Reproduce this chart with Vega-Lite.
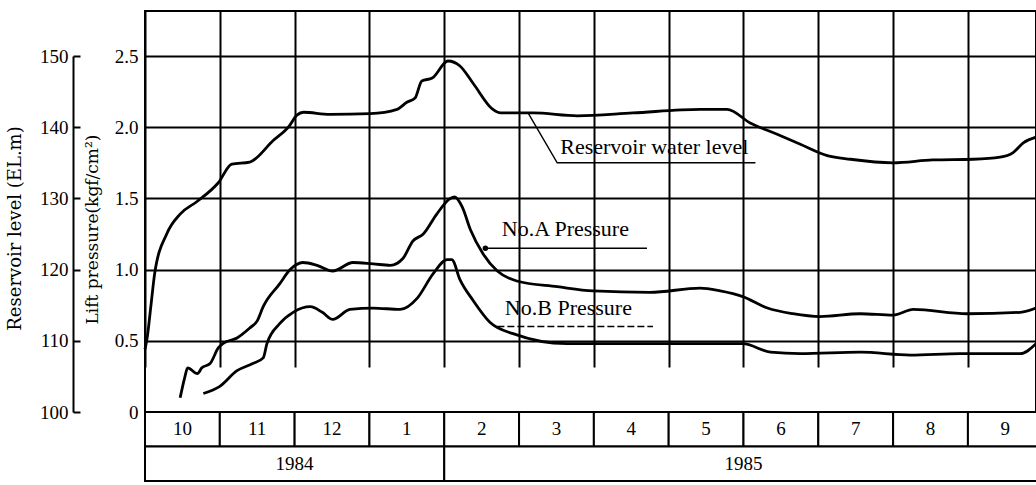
{
  "$schema": "https://vega.github.io/schema/vega-lite/v6.json",
  "autosize": {"type": "pad"},
  "padding": {"left": 5, "top": 10, "right": 0, "bottom": 0},
  "background": "white",
  "spacing": 0,
  "bounds": "flush",
  "config": {
    "font": "Liberation Serif",
    "view": {"stroke": "black", "strokeWidth": 2},
    "axis": {"labelFont": "Liberation Serif", "titleFont": "DejaVu Serif", "labelColor": "black", "titleColor": "black", "titleFontWeight": "normal"}
  },
  "datasets": {
    "water": [
      {"m": 0.00, "level": 108.8}, {"m": 0.03, "level": 110.5}, {"m": 0.08, "level": 115.0}, {"m": 0.13, "level": 119.5},
      {"m": 0.29, "level": 125.0}, {"m": 0.47, "level": 127.8}, {"m": 0.70, "level": 129.6}, {"m": 0.98, "level": 132.2},
      {"m": 1.16, "level": 134.8}, {"m": 1.40, "level": 135.1}, {"m": 1.71, "level": 138.1}, {"m": 1.93, "level": 140.2},
      {"m": 2.03, "level": 141.7}, {"m": 2.12, "level": 142.1}, {"m": 2.47, "level": 141.8}, {"m": 3.01, "level": 141.9}, {"m": 3.37, "level": 142.5},
      {"m": 3.50, "level": 143.5}, {"m": 3.61, "level": 144.1}, {"m": 3.70, "level": 146.5}, {"m": 3.84, "level": 146.9},
      {"m": 4.05, "level": 149.3}, {"m": 4.21, "level": 148.6}, {"m": 4.39, "level": 146.1}, {"m": 4.65, "level": 142.5},
      {"m": 4.75, "level": 142.0}, {"m": 5.19, "level": 142.0}, {"m": 5.78, "level": 141.6}, {"m": 6.52, "level": 142.0},
      {"m": 7.42, "level": 142.5}, {"m": 7.78, "level": 142.5}, {"m": 8.09, "level": 140.6}, {"m": 8.45, "level": 139.0},
      {"m": 8.76, "level": 137.6}, {"m": 9.12, "level": 136.0}, {"m": 9.43, "level": 135.5}, {"m": 10.00, "level": 135.0},
      {"m": 10.53, "level": 135.4}, {"m": 11.07, "level": 135.5}, {"m": 11.43, "level": 135.8}, {"m": 11.60, "level": 136.4},
      {"m": 11.74, "level": 137.8}, {"m": 11.91, "level": 138.6}
    ],
    "pressure": [
      {"s": "A", "m": 0.47, "v": 0.10}, {"s": "A", "m": 0.53, "v": 0.24}, {"s": "A", "m": 0.57, "v": 0.31}, {"s": "A", "m": 0.70, "v": 0.27},
      {"s": "A", "m": 0.76, "v": 0.31}, {"s": "A", "m": 0.87, "v": 0.34}, {"s": "A", "m": 0.98, "v": 0.45}, {"s": "A", "m": 1.04, "v": 0.48},
      {"s": "A", "m": 1.23, "v": 0.52}, {"s": "A", "m": 1.40, "v": 0.59}, {"s": "A", "m": 1.50, "v": 0.64}, {"s": "A", "m": 1.58, "v": 0.74},
      {"s": "A", "m": 1.80, "v": 0.90}, {"s": "A", "m": 1.94, "v": 1.00}, {"s": "A", "m": 2.11, "v": 1.05}, {"s": "A", "m": 2.30, "v": 1.03},
      {"s": "A", "m": 2.51, "v": 0.99}, {"s": "A", "m": 2.78, "v": 1.05}, {"s": "A", "m": 3.05, "v": 1.04}, {"s": "A", "m": 3.28, "v": 1.03},
      {"s": "A", "m": 3.45, "v": 1.08}, {"s": "A", "m": 3.58, "v": 1.20}, {"s": "A", "m": 3.72, "v": 1.25}, {"s": "A", "m": 3.90, "v": 1.39},
      {"s": "A", "m": 4.08, "v": 1.50}, {"s": "A", "m": 4.14, "v": 1.51}, {"s": "A", "m": 4.24, "v": 1.44}, {"s": "A", "m": 4.35, "v": 1.28},
      {"s": "A", "m": 4.52, "v": 1.11}, {"s": "A", "m": 4.71, "v": 0.99}, {"s": "A", "m": 4.97, "v": 0.92}, {"s": "A", "m": 5.51, "v": 0.88},
      {"s": "A", "m": 5.99, "v": 0.85}, {"s": "A", "m": 6.75, "v": 0.84}, {"s": "A", "m": 7.42, "v": 0.87}, {"s": "A", "m": 7.69, "v": 0.85},
      {"s": "A", "m": 7.99, "v": 0.81}, {"s": "A", "m": 8.32, "v": 0.73}, {"s": "A", "m": 8.66, "v": 0.69}, {"s": "A", "m": 9.02, "v": 0.67},
      {"s": "A", "m": 9.56, "v": 0.69}, {"s": "A", "m": 10.00, "v": 0.68}, {"s": "A", "m": 10.27, "v": 0.72}, {"s": "A", "m": 10.99, "v": 0.69},
      {"s": "A", "m": 11.70, "v": 0.70}, {"s": "A", "m": 11.91, "v": 0.73},
      {"s": "B", "m": 0.78, "v": 0.13}, {"s": "B", "m": 1.00, "v": 0.18}, {"s": "B", "m": 1.23, "v": 0.29}, {"s": "B", "m": 1.44, "v": 0.34},
      {"s": "B", "m": 1.58, "v": 0.38}, {"s": "B", "m": 1.63, "v": 0.48}, {"s": "B", "m": 1.80, "v": 0.62}, {"s": "B", "m": 1.98, "v": 0.70},
      {"s": "B", "m": 2.21, "v": 0.74}, {"s": "B", "m": 2.37, "v": 0.70}, {"s": "B", "m": 2.51, "v": 0.65}, {"s": "B", "m": 2.74, "v": 0.72},
      {"s": "B", "m": 3.05, "v": 0.73}, {"s": "B", "m": 3.41, "v": 0.72}, {"s": "B", "m": 3.64, "v": 0.80}, {"s": "B", "m": 3.85, "v": 0.97},
      {"s": "B", "m": 4.04, "v": 1.07}, {"s": "B", "m": 4.10, "v": 1.07}, {"s": "B", "m": 4.21, "v": 0.93}, {"s": "B", "m": 4.39, "v": 0.78},
      {"s": "B", "m": 4.61, "v": 0.63}, {"s": "B", "m": 4.92, "v": 0.55}, {"s": "B", "m": 5.64, "v": 0.48}, {"s": "B", "m": 5.99, "v": 0.48},
      {"s": "B", "m": 6.89, "v": 0.48}, {"s": "B", "m": 7.99, "v": 0.48}, {"s": "B", "m": 8.36, "v": 0.42}, {"s": "B", "m": 8.76, "v": 0.41},
      {"s": "B", "m": 9.56, "v": 0.42}, {"s": "B", "m": 10.23, "v": 0.40}, {"s": "B", "m": 10.90, "v": 0.41}, {"s": "B", "m": 11.70, "v": 0.41},
      {"s": "B", "m": 11.91, "v": 0.48}
    ],
    "labels": [
      {"label": "Reservoir water level", "m": 5.55, "v": 1.86},
      {"label": "No.A Pressure", "m": 4.77, "v": 1.285},
      {"label": "No.B Pressure", "m": 4.81, "v": 0.73}
    ],
    "leaders": [
      {"g": "water", "o": 1, "m": 5.12, "v": 2.10, "dash": "solid"},
      {"g": "water", "o": 2, "m": 5.51, "v": 1.75, "dash": "solid"},
      {"g": "water", "o": 3, "m": 8.16, "v": 1.75, "dash": "solid"},
      {"g": "A", "o": 1, "m": 4.55, "v": 1.15, "dash": "solid"},
      {"g": "A", "o": 2, "m": 6.71, "v": 1.15, "dash": "solid"},
      {"g": "B", "o": 1, "m": 4.71, "v": 0.60, "dash": "dashed"},
      {"g": "B", "o": 2, "m": 6.79, "v": 0.60, "dash": "dashed"}
    ],
    "table": [
      {"row": "month", "s": 0, "e": 1, "label": "10"},
      {"row": "month", "s": 1, "e": 2, "label": "11"},
      {"row": "month", "s": 2, "e": 3, "label": "12"},
      {"row": "month", "s": 3, "e": 4, "label": "1"},
      {"row": "month", "s": 4, "e": 5, "label": "2"},
      {"row": "month", "s": 5, "e": 6, "label": "3"},
      {"row": "month", "s": 6, "e": 7, "label": "4"},
      {"row": "month", "s": 7, "e": 8, "label": "5"},
      {"row": "month", "s": 8, "e": 9, "label": "6"},
      {"row": "month", "s": 9, "e": 10, "label": "7"},
      {"row": "month", "s": 10, "e": 11, "label": "8"},
      {"row": "month", "s": 11, "e": 12, "label": "9"},
      {"row": "year", "s": 0, "e": 4, "label": "1984"},
      {"row": "year", "s": 4, "e": 12, "label": "1985"}
    ]
  },
  "vconcat": [
    {
      "width": 891,
      "height": 401,
      "resolve": {"scale": {"y": "independent"}, "axis": {"y": "independent"}},
      "layer": [
        {
          "layer": [
            {
              "data": {"name": "pressure"},
              "mark": {"type": "line", "color": "black", "strokeWidth": 2.8, "interpolate": "monotone"},
              "encoding": {
                "x": {"field": "m", "type": "quantitative", "title": null,
                      "scale": {"domain": [0, 11.91], "nice": false, "zero": false},
                      "axis": {"values": [0,1,2,3,4,5,6,7,8,9,10,11], "grid": true, "gridColor": "black", "gridWidth": 2, "gridOpacity": 1, "labels": false, "ticks": false, "domain": false, "title": null}},
                "y": {"field": "v", "type": "quantitative",
                      "scale": {"domain": [0, 2.5], "range": [401, 45], "nice": false, "zero": false},
                      "axis": {"orient": "left", "values": [0, 0.5, 1, 1.5, 2, 2.5],
                               "labelExpr": "datum.value == 0 ? '0' : format(datum.value, '.1f')",
                               "grid": true, "gridColor": "black", "gridWidth": 2, "gridOpacity": 1,
                               "ticks": false, "domain": false, "labelPadding": 7, "labelFontSize": 19,
                               "title": "Lift pressure(kgf/cm²)", "titleFontSize": 17,
                               "titleX": -53, "titleY": 218, "titleAngle": -90, "titleAlign": "center", "titleBaseline": "middle"}},
                "detail": {"field": "s", "type": "nominal"}
              }
            },
            {
              "data": {"name": "leaders"},
              "transform": [{"filter": "datum.dash == 'solid'"}],
              "mark": {"type": "line", "color": "black", "strokeWidth": 1.4},
              "encoding": {
                "x": {"field": "m", "type": "quantitative", "title": null},
                "y": {"field": "v", "type": "quantitative"},
                "detail": {"field": "g", "type": "nominal"},
                "order": {"field": "o", "type": "quantitative"}
              }
            },
            {
              "data": {"name": "leaders"},
              "transform": [{"filter": "datum.g == 'A' && datum.o == 1"}],
              "mark": {"type": "point", "filled": true, "color": "black", "size": 30, "opacity": 1},
              "encoding": {
                "x": {"field": "m", "type": "quantitative", "title": null},
                "y": {"field": "v", "type": "quantitative"}
              }
            },
            {
              "data": {"name": "leaders"},
              "transform": [{"filter": "datum.dash == 'dashed'"}],
              "mark": {"type": "line", "color": "black", "strokeWidth": 1.4, "strokeDash": [7, 3]},
              "encoding": {
                "x": {"field": "m", "type": "quantitative", "title": null},
                "y": {"field": "v", "type": "quantitative"},
                "detail": {"field": "g", "type": "nominal"},
                "order": {"field": "o", "type": "quantitative"}
              }
            },
            {
              "data": {"name": "labels"},
              "mark": {"type": "text", "align": "left", "baseline": "middle", "font": "Liberation Serif", "fontSize": 22, "color": "black"},
              "encoding": {
                "x": {"field": "m", "type": "quantitative", "title": null},
                "y": {"field": "v", "type": "quantitative"},
                "text": {"field": "label"}
              }
            }
          ]
        },
        {
          "data": {"name": "water"},
          "mark": {"type": "line", "color": "black", "strokeWidth": 2.8, "interpolate": "monotone"},
          "encoding": {
            "x": {"field": "m", "type": "quantitative", "title": null},
            "y": {"field": "level", "type": "quantitative",
                  "scale": {"domain": [100, 150], "range": [401, 45], "nice": false, "zero": false},
                  "axis": {"orient": "left", "offset": 72, "values": [100, 110, 120, 130, 140, 150],
                           "grid": false, "domain": true, "domainColor": "black", "domainWidth": 2,
                           "ticks": true, "tickSize": -7, "tickColor": "black", "tickWidth": 2,
                           "labelPadding": 12, "labelFontSize": 19,
                           "title": "Reservoir level  (EL.m)", "titleFontSize": 18,
                           "titleX": -58, "titleY": 217, "titleAngle": -90, "titleAlign": "center", "titleBaseline": "middle"}}
          }
        }
      ]
    },
    {
      "width": 891,
      "height": 69,
      "data": {"name": "table"},
      "transform": [{"calculate": "(datum.s + datum.e) / 2", "as": "mid"}],
      "layer": [
        {
          "mark": {"type": "rect", "fill": "white", "stroke": "black", "strokeWidth": 2, "clip": true},
          "encoding": {
            "x": {"field": "s", "type": "quantitative", "scale": {"domain": [0, 11.91], "nice": false, "zero": false}, "axis": null},
            "x2": {"field": "e"},
            "y": {"field": "row", "type": "nominal", "scale": {"domain": ["month", "year"], "paddingInner": 0, "paddingOuter": 0}, "axis": null}
          }
        },
        {
          "mark": {"type": "text", "align": "center", "baseline": "middle", "font": "Liberation Serif", "fontSize": 19, "color": "black", "clip": true},
          "encoding": {
            "x": {"field": "mid", "type": "quantitative", "axis": null},
            "y": {"field": "row", "type": "nominal", "axis": null},
            "text": {"field": "label"}
          }
        }
      ]
    }
  ]
}
